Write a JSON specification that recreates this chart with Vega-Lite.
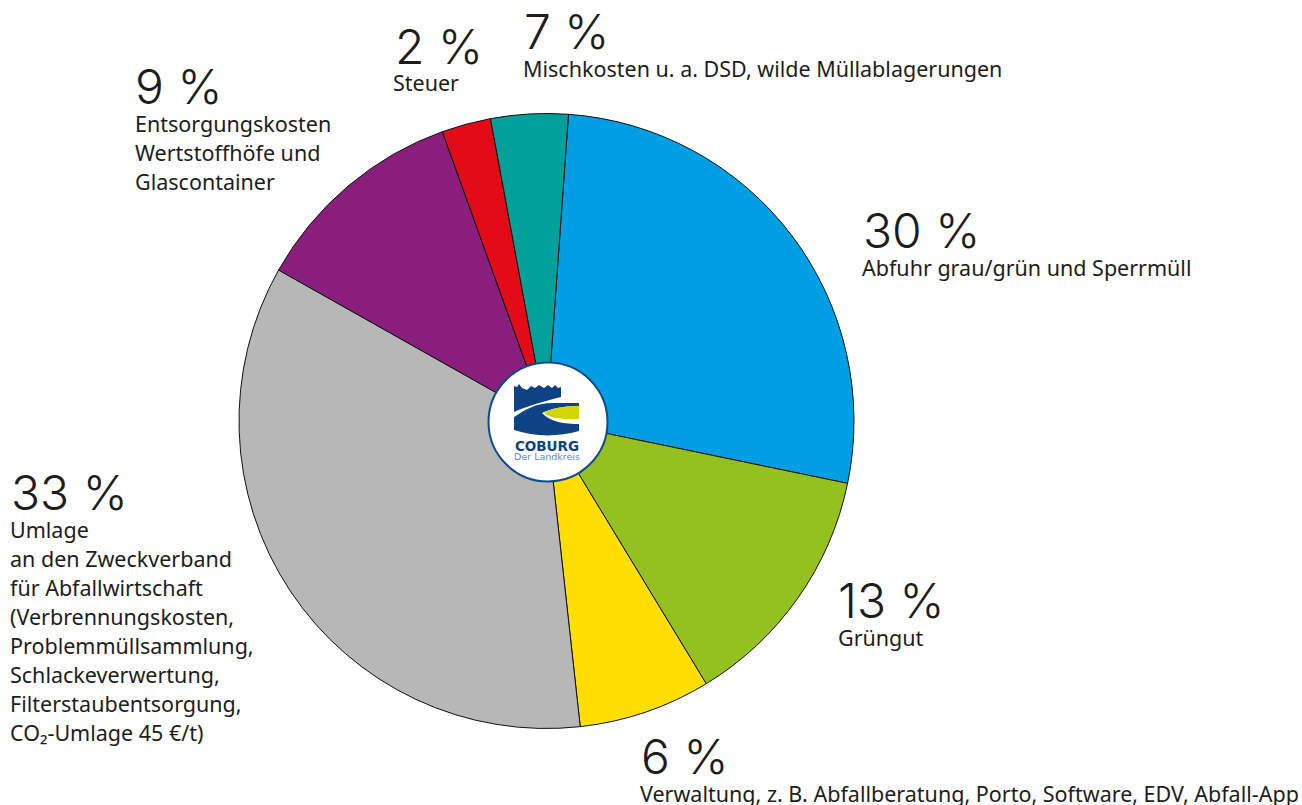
{"$schema":"https://vega.github.io/schema/vega-lite/v6.json","width":1302,"height":805,"padding":0,"autosize":{"type":"fit","contains":"padding"},"background":"white","view":{"stroke":null},
"datasets":{"slices":[
{"i":1,"name":"Abfuhr grau/grün und Sperrmüll","pct":"30 %","share":97.6,"px":863,"py":248,"desc":"Abfuhr grau/grün und Sperrmüll","dx":862,"dy":276},
{"i":2,"name":"Grüngut","pct":"13 %","share":47,"px":838,"py":618,"desc":"Grüngut","dx":838,"dy":646},
{"i":3,"name":"Verwaltung","pct":"6 %","share":25,"px":641,"py":774,"desc":"Verwaltung, z. B. Abfallberatung, Porto, Software, EDV, Abfall-App","dx":640,"dy":802},
{"i":4,"name":"Umlage","pct":"33 %","share":125.7,"px":11,"py":510,"desc":"Umlage\nan den Zweckverband\nfür Abfallwirtschaft\n(Verbrennungskosten,\nProblemmüllsammlung,\nSchlackeverwertung,\nFilterstaubentsorgung,\nCO₂-Umlage 45 €/t)","dx":10,"dy":538},
{"i":5,"name":"Entsorgungskosten","pct":"9 %","share":40.8,"px":135,"py":104,"desc":"Entsorgungskosten\nWertstoffhöfe und\nGlascontainer","dx":135,"dy":132},
{"i":6,"name":"Steuer","pct":"2 %","share":9.3,"px":395,"py":64,"desc":"Steuer","dx":393,"dy":91},
{"i":7,"name":"Mischkosten","pct":"7 %","share":14.6,"px":524,"py":49,"desc":"Mischkosten u. a. DSD, wilde Müllablagerungen","dx":523,"dy":77}
]},
"layer":[
{"data":{"name":"slices"},"mark":{"type":"arc","outerRadius":307.5,"stroke":"#111111","strokeWidth":1},
"encoding":{"x":{"datum":546.5,"type":"quantitative","scale":{"domain":[0,1302],"range":[0,1302],"nice":false,"zero":false},"axis":null},
"y":{"datum":421,"type":"quantitative","scale":{"domain":[0,805],"range":[0,805],"nice":false,"zero":false},"axis":null},
"theta":{"field":"share","type":"quantitative","stack":true,"scale":{"range":[0.0716,6.3548]}},
"order":{"field":"i"},
"color":{"field":"name","type":"nominal","legend":null,"sort":null,"scale":{"domain":["Abfuhr grau/grün und Sperrmüll","Grüngut","Verwaltung","Umlage","Entsorgungskosten","Steuer","Mischkosten"],"range":["#009fe3","#95c11f","#ffde00","#b7b7b7","#891e7c","#e30b17","#00a19a"]}}}},
{"data":{"values":[{}]},"mark":{"type":"point","shape":"circle","filled":true,"fill":"white","stroke":"#0d4b8c","strokeWidth":2,"size":14161,"opacity":1},
"encoding":{"x":{"datum":548,"type":"quantitative"},"y":{"datum":422,"type":"quantitative"}}},
{"data":{"values":[{}]},"mark":{"type":"point","filled":true,"fill":"#0d4285","stroke":null,"opacity":1,"size":4,"shape":"M-33,-35 L-30,-34 L-28,-37 L-25,-33 L-20,-31 L-16,-35 L-12,-33 L-8,-36 L-3,-33 L1,-36 L5,-33 L8,-36 L11,-33 L14,-34 L14,-24 C-2,-20 -20,-15 -33,-9 Z M-33,-4 C-22,-11 -12,-18 6,-18 L32,-18 L32,-15 C15,-15 3,-12 -5,-8 C3,1 18,3 32,3 L32,10 C10,16 -12,16 -33,9 Z"},
"encoding":{"x":{"datum":547,"type":"quantitative"},"y":{"datum":421,"type":"quantitative"}}},
{"data":{"values":[{}]},"mark":{"type":"point","filled":true,"fill":"#d2d500","stroke":null,"opacity":1,"size":4,"shape":"M32,-15 C15,-15 3,-12 -3,-8 C3,-3 15,-1 32,-2 Z"},
"encoding":{"x":{"datum":547,"type":"quantitative"},"y":{"datum":421,"type":"quantitative"}}},
{"data":{"values":[{"t":"COBURG"}]},"mark":{"type":"text","font":"DejaVu Sans","fontWeight":"bold","fontSize":13.5,"fill":"#0d4285","align":"center","baseline":"alphabetic"},
"encoding":{"x":{"datum":547,"type":"quantitative"},"y":{"datum":451,"type":"quantitative"},"text":{"field":"t"}}},
{"data":{"values":[{"t":"Der Landkreis"}]},"mark":{"type":"text","font":"DejaVu Sans","fontSize":9.5,"fill":"#5b8cc0","align":"center","baseline":"alphabetic"},
"encoding":{"x":{"datum":547,"type":"quantitative"},"y":{"datum":460,"type":"quantitative"},"text":{"field":"t"}}},
{"data":{"name":"slices"},"mark":{"type":"text","font":"Inter","fontWeight":300,"fontSize":48,"fill":"#1d1d1b","align":"left","baseline":"alphabetic"},
"encoding":{"x":{"field":"px","type":"quantitative"},"y":{"field":"py","type":"quantitative"},"text":{"field":"pct"}}},
{"data":{"name":"slices"},"transform":[{"calculate":"split(datum.desc,'\\n')","as":"lines"}],"mark":{"type":"text","font":"Noto Sans","fontSize":21.5,"lineHeight":29,"fill":"#1d1d1b","align":"left","baseline":"alphabetic"},
"encoding":{"x":{"field":"dx","type":"quantitative"},"y":{"field":"dy","type":"quantitative"},"text":{"field":"lines"}}}
]}
